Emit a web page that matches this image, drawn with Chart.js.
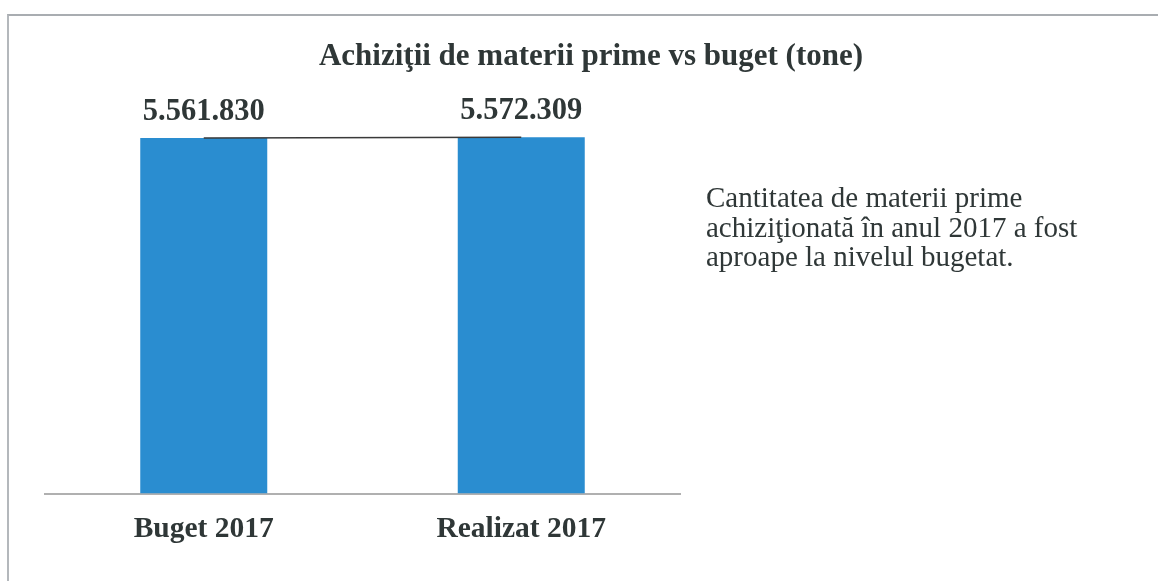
<!DOCTYPE html>
<html>
<head>
<meta charset="utf-8">
<script src="https://cdn.jsdelivr.net/npm/chart.js@4"></script>
<style>
  body { margin: 0; background: #fff; }
  #wrap { position: relative; width: 1158px; height: 581px; overflow: hidden; }
  #frame { position: absolute; left: 7px; top: 14px; right: -10px; bottom: -10px;
           border-top: 2px solid #a9adb1; border-left: 2px solid #b4b8bc; }
  #chart { position: absolute; left: 0; top: 0; }
  #note { position: absolute; left: 706px; top: 183px; width: 440px;
          font-family: "Liberation Serif", "Times New Roman", serif;
          font-size: 29px; line-height: 29.5px; color: #2f3737; }
</style>
</head>
<body>
<div id="wrap">
  <div id="frame"></div>
  <canvas id="chart" width="1158" height="581"></canvas>
  <div id="note">Cantitatea de materii prime<br>achiziţionată în anul 2017 a fost<br>aproape la nivelul bugetat.</div>
</div>
<script>
const chartTitle = "Achiziţii de materii prime vs buget (tone)";
const categories = ["Buget 2017", "Realizat 2017"];
const tonnes = [5561830, 5572309];
const valueLabels = ["5.561.830", "5.572.309"];

const serif = "'Liberation Serif', 'Times New Roman', serif";
const textColor = "#2f3737";

// title centered on the whole figure, value labels above bars
const extraText = {
    id: "extraText",
    afterDraw(chart) {
        const ctx = chart.ctx;
        ctx.save();
        ctx.fillStyle = textColor;
        ctx.textAlign = "center";
        ctx.textBaseline = "alphabetic";
        ctx.font = "bold 31px " + serif;
        ctx.fillText(chartTitle, 591, 65);

        ctx.font = "bold 30.5px " + serif;
        const meta = chart.getDatasetMeta(0);
        meta.data.forEach((bar, i) => {
            ctx.fillText(valueLabels[i], bar.x, bar.y - 18);
        });
        ctx.restore();
    }
};

new Chart(document.getElementById("chart"), {
    data: {
        labels: categories,
        datasets: [
            {
                type: "line",
                data: tonnes,
                borderColor: "#3a3a3a",
                borderWidth: 1.5,
                pointRadius: 0,
                order: 0
            },
            {
                type: "bar",
                data: tonnes,
                backgroundColor: "#2a8dd0",
                categoryPercentage: 1,
                barPercentage: 0.4,
                order: 1
            }
        ]
    },
    options: {
        responsive: false,
        animation: false,
        layout: { padding: { left: 45, right: 478, top: 110, bottom: 24 } },
        plugins: {
            legend: { display: false },
            title: { display: false },
            tooltip: { enabled: false }
        },
        scales: {
            x: {
                grid: { display: false },
                border: { display: true, color: "#b0b0b0", width: 2 },
                ticks: {
                    color: textColor,
                    padding: 10,
                    font: { family: serif, size: 29.5, weight: "bold" }
                }
            },
            y: {
                display: false,
                min: 0,
                max: 6000000
            }
        }
    },
    plugins: [extraText]
});
</script>
</body>
</html>
